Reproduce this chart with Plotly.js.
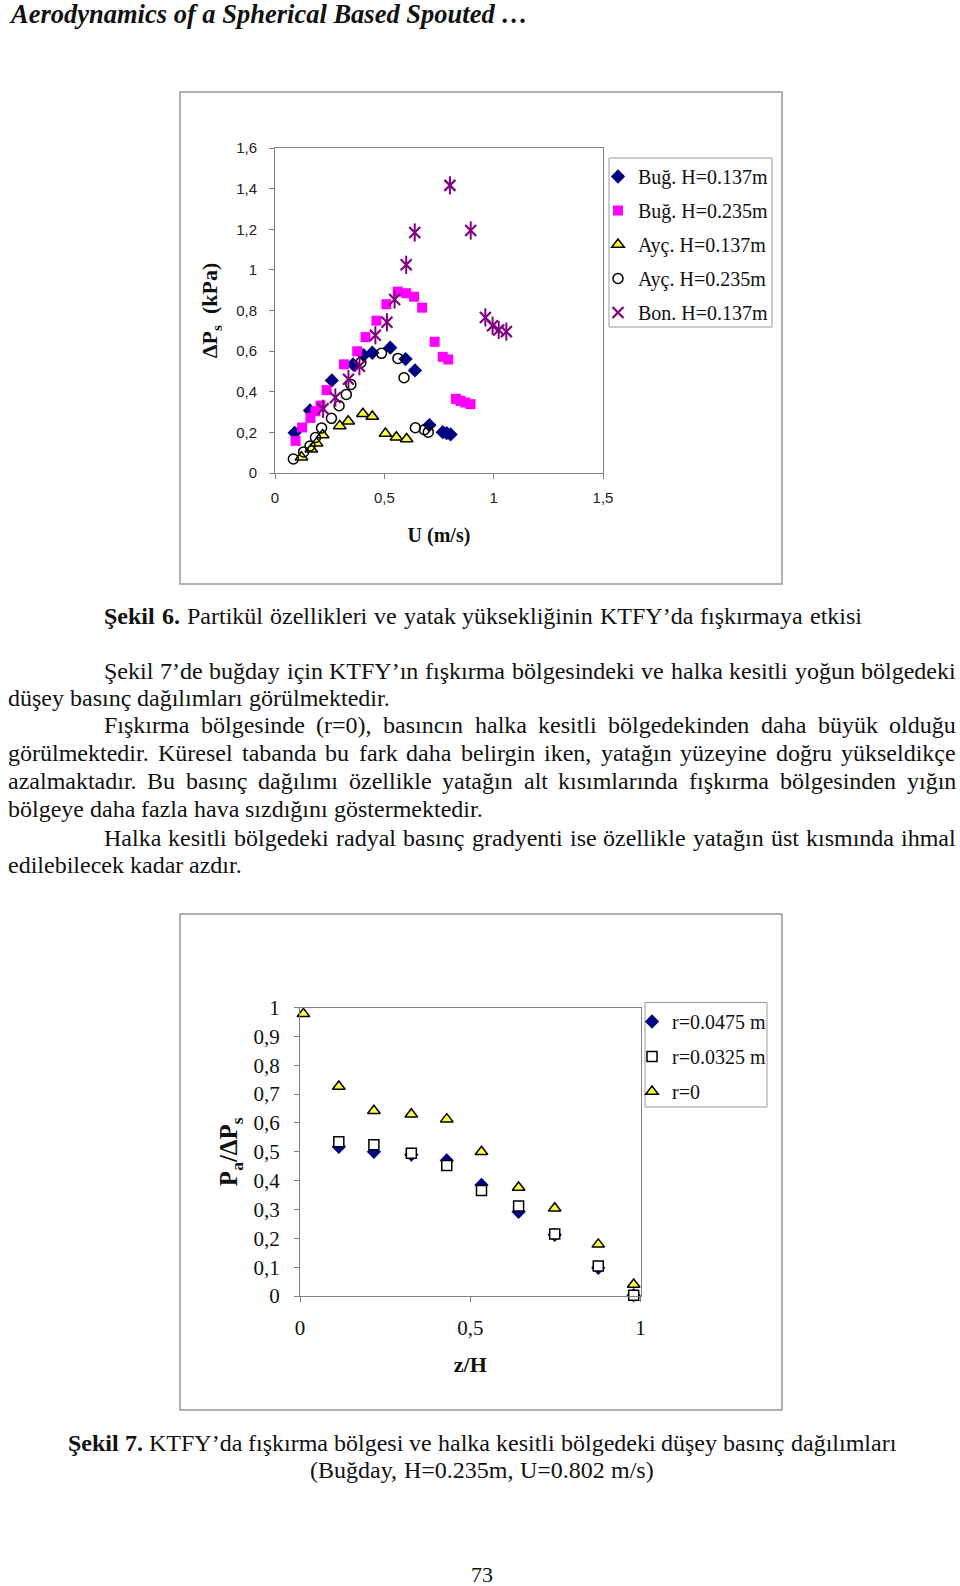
<!DOCTYPE html>
<html><head><meta charset="utf-8">
<script src="https://cdn.plot.ly/plotly-3.0.1.min.js"></script>
<style>body{margin:0;padding:0;background:#fff}#chart{width:960px;height:1586px}</style>
</head><body><div id="chart"></div>
<script>
// ---------- Şekil 6 data : ΔPs (kPa) vs U (m/s) ----------
const bugH137_u = [0.09, 0.16, 0.26, 0.357, 0.405, 0.445, 0.527, 0.597, 0.64, 0.706, 0.767, 0.785, 0.803];
const bugH137_p = [0.198, 0.308, 0.456, 0.535, 0.58, 0.592, 0.617, 0.561, 0.505, 0.236, 0.201, 0.196, 0.19];
const bugH235_u = [0.094, 0.124, 0.162, 0.185, 0.208, 0.236, 0.315, 0.376, 0.414, 0.464, 0.509, 0.561, 0.6, 0.636, 0.673, 0.73, 0.767, 0.792, 0.827, 0.848, 0.87, 0.894];
const bugH235_p = [0.158, 0.224, 0.271, 0.304, 0.332, 0.408, 0.535, 0.599, 0.669, 0.75, 0.831, 0.893, 0.885, 0.868, 0.814, 0.646, 0.572, 0.559, 0.365, 0.355, 0.347, 0.339];
const aycH137_u = [0.121, 0.166, 0.19, 0.218, 0.296, 0.335, 0.402, 0.445, 0.505, 0.555, 0.602];
const aycH137_p = [0.078, 0.117, 0.147, 0.187, 0.232, 0.255, 0.292, 0.278, 0.194, 0.176, 0.167];
const aycH235_u = [0.084, 0.131, 0.16, 0.185, 0.213, 0.258, 0.293, 0.326, 0.347, 0.393, 0.487, 0.562, 0.59, 0.642, 0.683, 0.701];
const aycH235_p = [0.069, 0.104, 0.133, 0.175, 0.222, 0.269, 0.331, 0.387, 0.436, 0.544, 0.589, 0.564, 0.469, 0.223, 0.213, 0.201];
const bonH137_u = [0.22, 0.276, 0.336, 0.386, 0.459, 0.512, 0.547, 0.6, 0.639, 0.80, 0.895, 0.962, 0.995, 1.023, 1.058];
const bonH137_p = [0.316, 0.372, 0.462, 0.526, 0.678, 0.742, 0.854, 1.025, 1.184, 1.416, 1.194, 0.766, 0.725, 0.704, 0.696];
const names1 = ["Buğ. H=0.137m", "Buğ. H=0.235m", "Ayç. H=0.137m", "Ayç. H=0.235m", "Bon. H=0.137m"];
const ticks1y = [0, 0.2, 0.4, 0.6, 0.8, 1, 1.2, 1.4, 1.6];
const ticks1x = [0, 0.5, 1, 1.5];

// ---------- Şekil 7 data : Pa/ΔPs vs z/H ----------
const zH_r0 = [0.01, 0.114, 0.217, 0.327, 0.431, 0.533, 0.642, 0.748, 0.876, 0.98];
const zH_ann = [0.114, 0.217, 0.327, 0.431, 0.533, 0.642, 0.748, 0.876, 0.98];
const r0475 = [0.517, 0.50, 0.49, 0.47, 0.385, 0.292, 0.212, 0.098, 0.003];
const r0325 = [0.535, 0.524, 0.495, 0.452, 0.366, 0.312, 0.215, 0.104, 0.003];
const r0 = [0.978, 0.726, 0.642, 0.630, 0.613, 0.50, 0.376, 0.304, 0.179, 0.04];
const names2 = ["r=0.0475 m", "r=0.0325 m", "r=0"];
const ticks2y = [0, 0.1, 0.2, 0.3, 0.4, 0.5, 0.6, 0.7, 0.8, 0.9, 1];
const ticks2x = [0, 0.5, 1];

// ---------- page text ----------
const headerText = "Aerodynamics of a Spherical Based Spouted …";
const caption6 = "Partikül özellikleri ve yatak yüksekliğinin KTFY’da fışkırmaya etkisi";
const paraLines = [
  "Şekil 7’de buğday için KTFY’ın fışkırma bölgesindeki ve halka kesitli yoğun bölgedeki",
  "düşey basınç dağılımları görülmektedir.",
  "Fışkırma bölgesinde (r=0), basıncın halka kesitli bölgedekinden daha büyük olduğu",
  "görülmektedir. Küresel tabanda bu fark daha belirgin iken, yatağın yüzeyine doğru yükseldikçe",
  "azalmaktadır. Bu basınç dağılımı özellikle yatağın alt kısımlarında fışkırma bölgesinden yığın",
  "bölgeye daha fazla hava sızdığını göstermektedir.",
  "Halka kesitli bölgedeki radyal basınç gradyenti ise özellikle yatağın üst kısmında ihmal",
  "edilebilecek kadar azdır."
];
const caption7a = "KTFY’da fışkırma bölgesi ve halka kesitli bölgedeki düşey basınç dağılımları";
const caption7b = "(Buğday, H=0.235m, U=0.802 m/s)";
const pageNo = "73";

const W = 960, H = 1586;
const px = x => x / W, py = y => 1 - y / H;
const SERIF = "Liberation Serif";
const annotations = [];
const ctx = document.createElement('canvas').getContext('2d');
function measure(t, size, bold) { ctx.font = (bold ? 'bold ' : '') + size + 'px "' + SERIF + '"'; return ctx.measureText(t).width; }
function addLine(words, x0, x1, y, size, justify) {
  let ws, gap;
  for (;;) {
    ws = words.map(w => measure(w.t, size, w.b));
    const total = ws.reduce((a, b) => a + b, 0);
    gap = (justify && words.length > 1) ? (x1 - x0 - total) / (words.length - 1) : measure(' ', size, false);
    if (gap >= size * 0.2 || size < 12) break;
    size -= 0.5;
  }
  let x = x0;
  words.forEach((w, i) => {
    annotations.push({xref: 'paper', yref: 'paper', x: px(x), y: py(y), xanchor: 'left', yanchor: 'middle',
      showarrow: false, borderpad: 0, borderwidth: 0, text: w.b ? '<b>' + w.t + '</b>' : w.t,
      font: {family: SERIF, size: size, color: '#111'}});
    x += ws[i] + gap;
  });
}
const toWords = s => s.split(/\s+/).map(t => ({t: t}));

// header
annotations.push({xref: 'paper', yref: 'paper', x: px(7), y: py(14), xanchor: 'left', yanchor: 'middle', showarrow: false,
  text: '<b><i>' + headerText + '</i></b>', font: {family: SERIF, size: 26.5, color: '#111'}});
// caption 6
addLine([{t: 'Şekil', b: 1}, {t: '6.', b: 1}].concat(toWords(caption6)), 104, 862, 616, 24, true);
// paragraph
const lineY = [671, 698, 725, 753, 781, 809, 838, 865];
const lineX0 = [104, 8, 104, 8, 8, 8, 104, 8];
const lineJust = [true, false, true, true, true, false, true, false];
paraLines.forEach((l, i) => addLine(toWords(l), lineX0[i], 956, lineY[i], 24, lineJust[i]));
// caption 7
addLine([{t: 'Şekil', b: 1}, {t: '7.', b: 1}].concat(toWords(caption7a)), 68, 896, 1443, 24, true);
addLine(toWords(caption7b), 310, 654, 1470, 24, true);
annotations.push({xref: 'paper', yref: 'paper', x: px(482), y: py(1574), xanchor: 'center', yanchor: 'middle', showarrow: false,
  text: pageNo, font: {family: SERIF, size: 22, color: '#111'}});

const tri = {symbol: 'triangle-up', size: 11, color: '#FFFF40', line: {color: '#000', width: 1.5}};
const traces = [
  {x: bugH137_u, y: bugH137_p, name: names1[0], legend: 'legend', legendgroup: 'a1', marker: {symbol: 'diamond', size: 11, color: '#000080'}},
  {x: bugH235_u, y: bugH235_p, name: names1[1], legend: 'legend', legendgroup: 'a2', marker: {symbol: 'square', size: 10, color: '#FF00FF'}},
  {x: aycH137_u, y: aycH137_p, name: names1[2], legend: 'legend', legendgroup: 'a3', marker: tri},
  {x: aycH235_u, y: aycH235_p, name: names1[3], legend: 'legend', legendgroup: 'a4', marker: {symbol: 'circle-open', size: 10, color: '#000', line: {width: 1.5}}},
  {x: bonH137_u, y: bonH137_p, name: names1[4], legend: 'legend', legendgroup: 'a5', marker: {symbol: 'x-thin-open', size: 11, color: '#800080', line: {width: 2.2, color: '#800080'}}},
  {x: bonH137_u, y: bonH137_p, name: names1[4], legend: 'legend', legendgroup: 'a5', showlegend: false, marker: {symbol: 'line-ns-open', size: 13, color: '#800080', line: {width: 2, color: '#800080'}}},
  {x: zH_ann, y: r0475, name: names2[0], xaxis: 'x2', yaxis: 'y2', legend: 'legend2', legendgroup: 'b1', marker: {symbol: 'diamond', size: 11, color: '#000080'}},
  {x: zH_ann, y: r0325, name: names2[1], xaxis: 'x2', yaxis: 'y2', legend: 'legend2', legendgroup: 'b2', marker: {symbol: 'square', size: 10, color: '#fff', line: {color: '#000', width: 1.5}}},
  {x: zH_r0, y: r0, name: names2[2], xaxis: 'x2', yaxis: 'y2', legend: 'legend2', legendgroup: 'b3', marker: tri}
].map(t => Object.assign({type: 'scatter', mode: 'markers', cliponaxis: false}, t));

const axBase = {showgrid: false, zeroline: false, showline: true, linecolor: '#808080', linewidth: 1, mirror: true,
  ticks: 'outside', ticklen: 5, tickcolor: '#808080', tickmode: 'array'};
const sansTick = {family: 'Liberation Sans', size: 15, color: '#222'};
const serifTick = {family: SERIF, size: 21, color: '#111'};
const fmt = v => String(v).replace('.', ',');

const layout = {
  width: W, height: H, autosize: false, margin: {l: 0, r: 0, t: 0, b: 0},
  paper_bgcolor: '#fff', plot_bgcolor: '#fff', separators: ',.',
  xaxis: Object.assign({}, axBase, {domain: [px(275), px(603)], range: [0, 1.5], anchor: 'y',
    tickvals: ticks1x, ticktext: ticks1x.map(fmt), tickfont: sansTick, ticklabelstandoff: 6,
    title: {text: '<b>U (m/s)</b>', font: {family: SERIF, size: 20, color: '#111'}, standoff: 22}}),
  yaxis: Object.assign({}, axBase, {domain: [py(473), py(148)], range: [0, 1.6], anchor: 'x',
    tickvals: ticks1y, ticktext: ticks1y.map(fmt), tickfont: sansTick, ticklabelstandoff: 9,
    title: {text: '<b>ΔP<sub>s</sub>  (kPa)</b>', font: {family: SERIF, size: 22, color: '#111'}, standoff: 12}}),
  xaxis2: Object.assign({}, axBase, {domain: [px(300), px(640.5)], range: [0, 1], anchor: 'y2',
    tickvals: ticks2x, ticktext: ticks2x.map(fmt), tickfont: serifTick, ticklabelstandoff: 8,
    title: {text: '<b>z/H</b>', font: {family: SERIF, size: 22, color: '#111'}, standoff: 17}}),
  yaxis2: Object.assign({}, axBase, {domain: [py(1296), py(1007.5)], range: [0, 1], anchor: 'x2',
    tickvals: ticks2y, ticktext: ticks2y.map(fmt), tickfont: serifTick, ticklabelstandoff: 10,
    title: {text: '<b>P<sub>a</sub>/ΔP<sub>s</sub></b>', font: {family: SERIF, size: 25, color: '#111'}, standoff: 8}}),
  legend: {x: px(598), y: py(157), xanchor: 'left', yanchor: 'top', bgcolor: 'rgba(0,0,0,0)', borderwidth: 0,
    font: {family: SERIF, size: 20, color: '#111'}, traceorder: 'grouped', tracegroupgap: 5, itemwidth: 30},
  legend2: {x: px(632), y: py(1002), xanchor: 'left', yanchor: 'top', bgcolor: 'rgba(0,0,0,0)', borderwidth: 0,
    font: {family: SERIF, size: 20, color: '#111'}, traceorder: 'grouped', tracegroupgap: 6, itemwidth: 30},
  shapes: [
    {type: 'rect', xref: 'paper', yref: 'paper', x0: px(180), x1: px(782), y0: py(92), y1: py(584), line: {color: '#999', width: 1.5}, layer: 'below'},
    {type: 'rect', xref: 'paper', yref: 'paper', x0: px(180), x1: px(782), y0: py(914), y1: py(1410), line: {color: '#999', width: 1.5}, layer: 'below'},
    {type: 'rect', xref: 'paper', yref: 'paper', x0: px(609), x1: px(772), y0: py(158), y1: py(327), line: {color: '#999', width: 1}, layer: 'above'},
    {type: 'rect', xref: 'paper', yref: 'paper', x0: px(645), x1: px(767), y0: py(1002.5), y1: py(1107), line: {color: '#999', width: 1}, layer: 'above'}
  ],
  annotations: annotations,
  showlegend: true
};
Plotly.newPlot('chart', traces, layout, {displayModeBar: false, staticPlot: true});
</script></body></html>
